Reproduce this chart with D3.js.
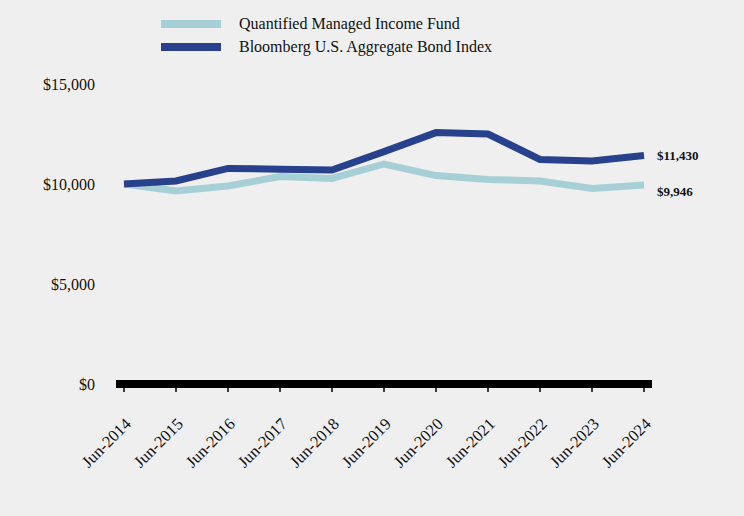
<!DOCTYPE html>
<html>
<head>
<meta charset="utf-8">
<script src="https://cdn.jsdelivr.net/npm/d3@7"></script>
<style>
html,body{margin:0;padding:0;background:#efefef;}
svg{display:block;}
text{font-family:"Liberation Serif","Times New Roman",serif;}
</style>
</head>
<body>
<svg id="chart" width="744" height="516"></svg>
<script>
const categories = ["Jun-2014","Jun-2015","Jun-2016","Jun-2017","Jun-2018","Jun-2019","Jun-2020","Jun-2021","Jun-2022","Jun-2023","Jun-2024"];
const fundValues = [10000, 9650, 9900, 10370, 10280, 11000, 10420, 10230, 10150, 9780, 9946];
const indexValues = [10000, 10150, 10780, 10740, 10700, 11620, 12570, 12500, 11230, 11150, 11430];
const yTicks = [0, 5000, 10000, 15000];
const seriesNames = ["Quantified Managed Income Fund", "Bloomberg U.S. Aggregate Bond Index"];
const seriesColors = ["#a6d0d6", "#27418d"];
const endLabels = ["$9,946", "$11,430"];

const svg = d3.select("#chart");
const x = d3.scalePoint().domain(categories).range([124, 644]);
const y = d3.scaleLinear().domain([0, 15000]).range([384, 84]);

// y axis labels
svg.append("g").selectAll("text").data(yTicks).join("text")
  .attr("x", 95).attr("y", d => y(d)).attr("dy", "0.35em")
  .attr("text-anchor", "end").attr("font-size", 16).attr("fill", "#111")
  .text(d => "$" + d3.format(",")(d));

// x axis thick line
svg.append("rect").attr("x", 116).attr("y", 380).attr("width", 536).attr("height", 8).attr("fill", "#000");
svg.append("g").selectAll("line").data(categories).join("line")
  .attr("x1", d => x(d)).attr("x2", d => x(d)).attr("y1", 386).attr("y2", 392)
  .attr("stroke", "#000").attr("stroke-width", 1.5);
svg.append("g").selectAll("text").data(categories).join("text")
  .attr("transform", d => `translate(${x(d) + 8},${425}) rotate(-45)`)
  .attr("text-anchor", "end").attr("font-size", 16.5).attr("fill", "#111")
  .text(d => d);

const line = d3.line().x((d, i) => x(categories[i])).y(d => y(d));
[fundValues, indexValues].forEach((vals, k) => {
  svg.append("path").datum(vals).attr("d", line)
    .attr("fill", "none").attr("stroke", seriesColors[k]).attr("stroke-width", 7)
    .attr("stroke-linejoin", "miter");
  svg.append("text").attr("x", 657).attr("y", y(vals[vals.length - 1]) + (k === 0 ? 11 : 5))
    .attr("font-size", 13).attr("font-weight", "bold").attr("fill", "#111")
    .text(endLabels[k]);
});

// legend
const lg = svg.append("g");
seriesNames.forEach((n, k) => {
  lg.append("rect").attr("x", 161).attr("y", 20 + k * 23).attr("width", 60).attr("height", 8).attr("fill", seriesColors[k]);
  lg.append("text").attr("x", 239).attr("y", 29 + k * 23).attr("font-size", 16).attr("fill", "#111").text(n);
});
</script>
</body>
</html>
